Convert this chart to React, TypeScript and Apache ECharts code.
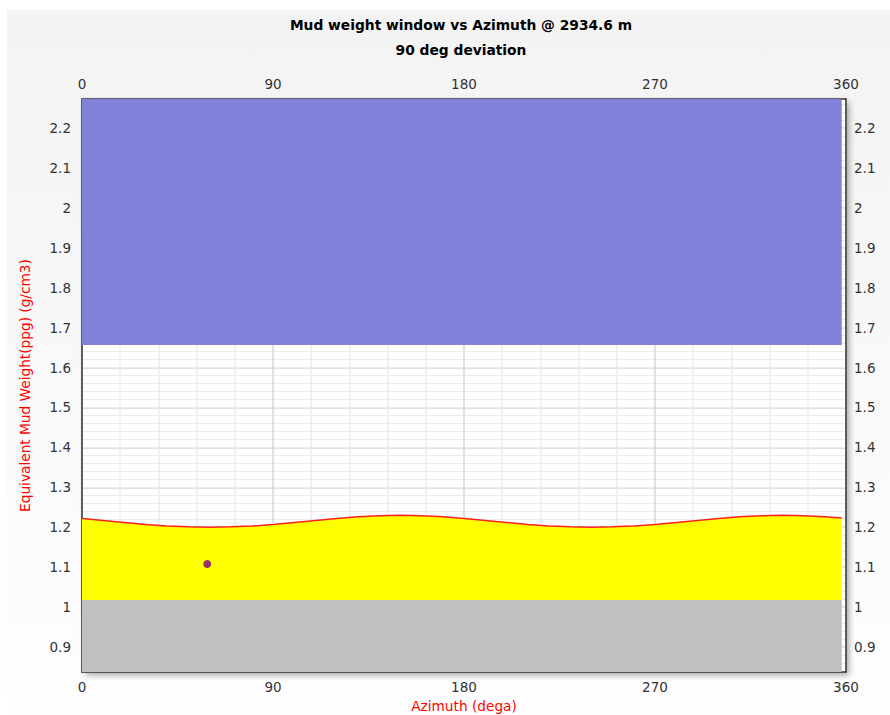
import React, { useEffect, useRef } from "react";
import * as echarts from "echarts";

const titleLines = ["Mud weight window vs Azimuth @ 2934.6 m", "90 deg deviation"];
const azimuth = [0, 10, 20, 30, 40, 50, 60, 70, 80, 90, 100, 110, 120, 130, 140, 150, 160, 170, 180, 190, 200, 210, 220, 230, 240, 250, 260, 270, 280, 290, 300, 310, 320, 330, 340, 350, 358];
const collapse = [1.222, 1.217, 1.212, 1.207, 1.203, 1.201, 1.2, 1.201, 1.203, 1.207, 1.212, 1.217, 1.222, 1.226, 1.229, 1.23, 1.229, 1.226, 1.222, 1.217, 1.212, 1.207, 1.203, 1.201, 1.2, 1.201, 1.203, 1.207, 1.212, 1.217, 1.222, 1.226, 1.229, 1.23, 1.229, 1.226, 1.223];
const porePressure = 1.0177;
const fractureGradient = 1.6564;
const mudWeightPoint: [number, number] = [59, 1.108];
const xTicks = [0, 90, 180, 270, 360];
const yTicks = [0.9, 1.0, 1.1, 1.2, 1.3, 1.4, 1.5, 1.6, 1.7, 1.8, 1.9, 2.0, 2.1, 2.2];
const yMin = 0.8374;
const yMax = 2.2727;

const FONT = "DejaVu Sans";

export default function App() {
  const ref = useRef<HTMLDivElement>(null);
  useEffect(() => {
    if (!ref.current) return;
    const chart = echarts.init(ref.current, null, { renderer: "svg" });
    const minorY: number[] = [];
    for (let v = 0.84; v < yMax; v += 0.02) minorY.push(Math.round(v * 100) / 100);

    const labelStyle = { color: "#333", fontFamily: FONT, fontSize: 13.5 };
    const baseX = {
      type: "value",
      min: 0,
      max: 360,
      interval: 90,
      axisLine: { show: true, onZero: false, lineStyle: { color: "#333", width: 1.5 } },
      axisTick: { show: false },
      axisLabel: { ...labelStyle, margin: 8, customValues: xTicks },
    };
    const baseY = {
      type: "value",
      min: yMin,
      max: yMax,
      axisLine: { show: true, onZero: false, lineStyle: { color: "#333", width: 1.5 } },
      axisTick: { show: false, customValues: yTicks },
      axisLabel: { ...labelStyle, margin: 11, customValues: yTicks, formatter: (v: number) => String(Math.round(v * 10) / 10) },
    };
    const titleStyle = { fontFamily: FONT, fontSize: 13.8, fontWeight: "bold", color: "#000" };

    chart.setOption({
      animation: false,
      backgroundColor: {
        type: "linear", x: 0, y: 0, x2: 0, y2: 1,
        colorStops: [{ offset: 0, color: "#f3f3f3" }, { offset: 1, color: "#fefefe" }],
      },
      title: [
        { text: titleLines[0], left: 449, top: 3, textAlign: "center", textStyle: titleStyle },
        { text: titleLines[1], left: 449, top: 28, textAlign: "center", textStyle: titleStyle },
      ],
      grid: {
        left: 75, right: 44, top: 89, bottom: 43,
        outerBoundsMode: "none",
        containLabel: false,
        show: true, backgroundColor: "#fff", borderWidth: 0,
        shadowColor: "rgba(0,0,0,0.35)", shadowBlur: 6, shadowOffsetX: 3, shadowOffsetY: 3,
      },
      xAxis: [
        {
          ...baseX, position: "bottom",
          name: "Azimuth (dega)", nameLocation: "middle", nameGap: 26,
          nameTextStyle: { color: "#ff0000", fontFamily: FONT, fontSize: 13.7 },
          splitLine: { show: true, lineStyle: { color: "#d6d6d6", width: 1.5 } },
          minorTick: { show: false, splitNumber: 5 },
          minorSplitLine: { show: true, lineStyle: { color: "#ececec", width: 1.5 } },
        },
        { ...baseX, position: "top", splitLine: { show: false } },
      ],
      yAxis: [
        {
          ...baseY, position: "left",
          name: "Equivalent Mud Weight(ppg) (g/cm3)", nameLocation: "middle", nameGap: 50,
          nameTextStyle: { color: "#ff0000", fontFamily: FONT, fontSize: 13.7 },
          splitLine: { show: true, lineStyle: { color: "#d6d6d6", width: 1.5 } },
        },
        { ...baseY, position: "right", axisLabel: { ...baseY.axisLabel, margin: 8 }, splitLine: { show: false } },
        {
          type: "value", min: yMin, max: yMax, position: "left",
          axisLine: { show: false }, axisLabel: { show: false },
          axisTick: { show: false, customValues: minorY },
          splitLine: { show: true, lineStyle: { color: "#ececec", width: 1 } },
          z: 0,
        },
      ],
      series: [
        {
          type: "line", name: "Loss", xAxisIndex: 0, yAxisIndex: 0,
          data: azimuth.map((a) => [a, fractureGradient]),
          symbol: "none", lineStyle: { width: 0 },
          areaStyle: { color: "#8282db", opacity: 1, origin: "end" },
        },
        {
          type: "line", name: "Kick", xAxisIndex: 0, yAxisIndex: 0,
          data: azimuth.map((a) => [a, porePressure]),
          symbol: "none", lineStyle: { width: 0 },
          areaStyle: { color: "#c0c0c0", opacity: 1, origin: "start" },
        },
        {
          type: "line", name: "Collapse", xAxisIndex: 0, yAxisIndex: 0,
          data: azimuth.map((a, i) => [a, collapse[i]]),
          symbol: "none", lineStyle: { width: 1.5, color: "#ff2020" },
          areaStyle: { color: "#ffff00", opacity: 1, origin: porePressure },
        },
        {
          type: "scatter", name: "Mud weight", xAxisIndex: 0, yAxisIndex: 0,
          z: 10,
          data: [mudWeightPoint], symbolSize: 8, itemStyle: { color: "#800080" },
        },
      ],
    });
    return () => chart.dispose();
  }, []);
  return <div ref={ref} style={{ position: "absolute", left: 7, top: 10, width: 883, height: 705 }} />;
}
